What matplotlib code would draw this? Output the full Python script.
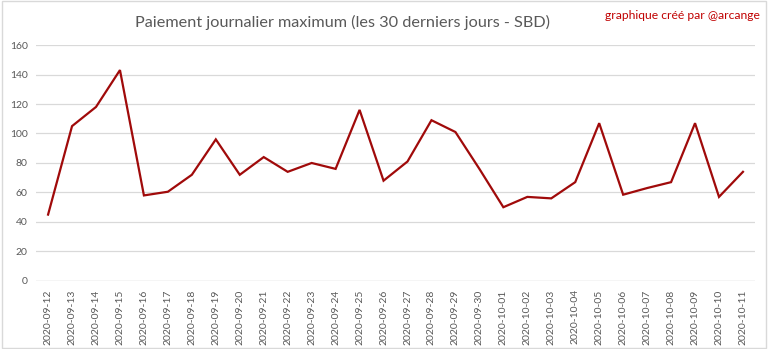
import matplotlib
matplotlib.use("Agg")
import matplotlib.pyplot as plt
from matplotlib.patches import Rectangle

dates = ["2020-09-12", "2020-09-13", "2020-09-14", "2020-09-15", "2020-09-16",
         "2020-09-17", "2020-09-18", "2020-09-19", "2020-09-20", "2020-09-21",
         "2020-09-22", "2020-09-23", "2020-09-24", "2020-09-25", "2020-09-26",
         "2020-09-27", "2020-09-28", "2020-09-29", "2020-09-30", "2020-10-01",
         "2020-10-02", "2020-10-03", "2020-10-04", "2020-10-05", "2020-10-06",
         "2020-10-07", "2020-10-08", "2020-10-09", "2020-10-10", "2020-10-11"]
values = [45, 105, 118, 143, 58, 60.5, 72, 96, 72, 84,
          74, 80, 76, 116, 68, 81, 109, 101, 76, 50,
          57, 56, 67, 107, 58.5, 63, 67, 107, 57, 74]
yticks = [0, 20, 40, 60, 80, 100, 120, 140, 160]

plt.rcParams['font.family'] = ['Lato', 'DejaVu Sans']
fig = plt.figure(figsize=(7.68, 3.49), dpi=100)
ax = fig.add_axes([0.047, 0.195, 0.936, 0.676])

x = list(range(len(dates)))
ax.plot(x, values, color="#A00A0A", linewidth=1.6, solid_joinstyle="miter")
ax.set_xlim(-0.5, len(dates) - 0.5)
ax.set_ylim(0, 160)
ax.set_yticks(yticks)
ax.set_yticklabels([str(v) for v in yticks], fontsize=7.5, color="#595959")
ax.set_xticks(x)
ax.set_xticklabels(dates, rotation=90, fontsize=7.5, color="#595959")
ax.tick_params(axis="both", length=0, pad=6)
ax.grid(axis="y", color="#D9D9D9", linewidth=0.9)
ax.set_axisbelow(True)
for s in ax.spines.values():
    s.set_visible(False)
ax.axhline(0, color="#D9D9D9", linewidth=0.9, zorder=0)

fig.text(0.446, 0.935, "Paiement journalier maximum (les 30 derniers jours - SBD)",
         ha="center", va="center", fontsize=11.7, color="#595959")
fig.text(0.99, 0.955, "graphique créé par @arcange", ha="right", va="center",
         fontsize=8.7, color="#C00000")
fig.patches.append(Rectangle((0.002, 0.003), 0.996, 0.994, transform=fig.transFigure,
                             fill=False, edgecolor="#D9D9D9", linewidth=1))
fig.savefig("out.png", dpi=100, facecolor="white")
